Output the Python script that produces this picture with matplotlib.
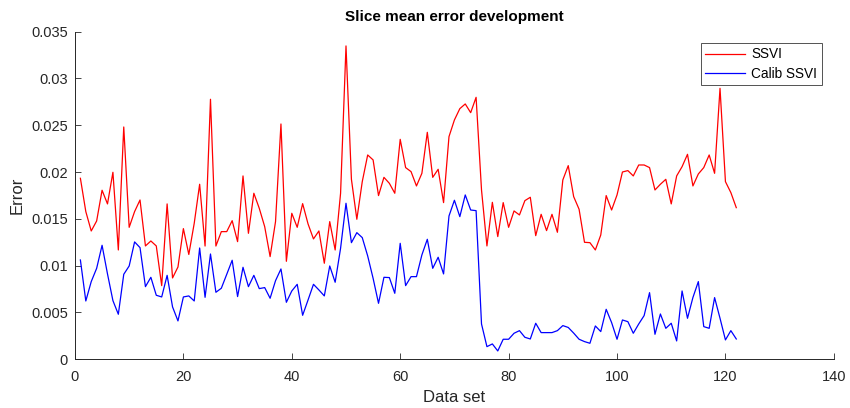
import matplotlib
matplotlib.use("Agg")
import matplotlib.pyplot as plt
import numpy as np

plt.rcParams['font.family'] = ['Liberation Sans', 'DejaVu Sans']

ssvi = [0.01934, 0.01578, 0.01371, 0.01478, 0.01806, 0.0166, 0.01998, 0.01168, 0.02482, 0.0141,
        0.01578, 0.01702, 0.01211, 0.01264, 0.01211, 0.00787, 0.0166, 0.00869, 0.00986, 0.01396,
        0.01120, 0.01453, 0.0187, 0.0121, 0.02778, 0.0121, 0.01364, 0.01364, 0.01481, 0.01257,
        0.01959, 0.01346, 0.01774, 0.01613, 0.01417, 0.01097, 0.01471, 0.02514, 0.01047, 0.0156,
        0.0141, 0.01663, 0.01446, 0.01286, 0.01371, 0.01026, 0.01471, 0.01168, 0.01774, 0.03348,
        0.01923, 0.01496, 0.01898, 0.02183, 0.0213, 0.01749, 0.01944, 0.0188, 0.01774, 0.0235,
        0.02048, 0.02005, 0.01852, 0.01987, 0.02425, 0.01944, 0.0203, 0.01674, 0.02379, 0.02557,
        0.02678, 0.02728, 0.02635, 0.02799, 0.01809, 0.01211, 0.01677, 0.01311, 0.01674, 0.0141,
        0.01585, 0.01542, 0.01695, 0.01731, 0.01321, 0.01549, 0.01375, 0.01549, 0.01357, 0.01916,
        0.02069, 0.01738, 0.01603, 0.0125, 0.01246, 0.01168, 0.01328, 0.01749, 0.01595, 0.01756,
        0.02001, 0.02016, 0.01959, 0.02076, 0.02076, 0.02048, 0.01809, 0.0187, 0.01923, 0.0166,
        0.01959, 0.02058, 0.0219, 0.01852, 0.0198, 0.02048, 0.02183, 0.01987, 0.02895, 0.01898,
        0.01781, 0.0162]

calib = [0.01061, 0.00623, 0.0083, 0.00972, 0.01218, 0.00912, 0.00627, 0.00481, 0.00908, 0.00997,
         0.01254, 0.01193, 0.00776, 0.00876, 0.00684, 0.00666, 0.00897, 0.00560, 0.0041, 0.00666,
         0.00677, 0.00623, 0.01189, 0.00662, 0.01125, 0.00716, 0.00759, 0.00908, 0.01058, 0.0067,
         0.00983, 0.00776, 0.00897, 0.00755, 0.00766, 0.00652, 0.0084, 0.00965, 0.00609, 0.0073,
         0.00801, 0.0047, 0.00634, 0.00801, 0.00741, 0.00677, 0.00997, 0.00823, 0.01186, 0.01667,
         0.01246, 0.01353, 0.013, 0.01104, 0.00865, 0.00598, 0.00876, 0.00873, 0.00705, 0.01239,
         0.00787, 0.00883, 0.00883, 0.01115, 0.01282, 0.00972, 0.0109, 0.00912, 0.01531, 0.01699,
         0.01524, 0.01756, 0.01595, 0.01588, 0.00377, 0.00135, 0.00164, 0.00089, 0.00214, 0.00214,
         0.00278, 0.00306, 0.00235, 0.00217, 0.00385, 0.00285, 0.00285, 0.00285, 0.00306, 0.0036,
         0.0034, 0.0028, 0.00214, 0.00189, 0.00171, 0.00356, 0.00296, 0.00534, 0.00392, 0.00214,
         0.0042, 0.00402, 0.00278, 0.00377, 0.00467, 0.00712, 0.00267, 0.00484, 0.00331, 0.00385,
         0.00196, 0.0073, 0.00438, 0.0066, 0.0083, 0.00349, 0.00331, 0.00659, 0.00438, 0.00207,
         0.00306, 0.00217]

data_set = np.arange(1, len(ssvi) + 1)

x_ticks = [0, 20, 40, 60, 80, 100, 120, 140]
y_ticks = [0, 0.005, 0.01, 0.015, 0.02, 0.025, 0.03, 0.035]
y_tick_labels = ['0', '0.005', '0.01', '0.015', '0.02', '0.025', '0.03', '0.035']

fig = plt.figure(figsize=(8.5, 4.08), dpi=100)
ax = fig.add_axes([0.0882, 0.1194, 0.8928, 0.8029])

ax.plot(data_set, ssvi, color='#ff0000', lw=0.9, label='SSVI')
ax.plot(data_set, calib, color='#0000ff', lw=0.9, label='Calib SSVI')

ax.set_xlim(0, 140)
ax.set_ylim(0, 0.035)
ax.set_xticks(x_ticks)
ax.set_yticks(y_ticks)
ax.set_yticklabels(y_tick_labels)
ax.tick_params(direction='in', length=4, width=0.6, colors='#262626', labelsize=10.5)
ax.tick_params(axis='x', pad=8)
ax.tick_params(axis='y', pad=5)
for s in ['top', 'right']:
    ax.spines[s].set_visible(False)
for s in ['left', 'bottom']:
    ax.spines[s].set_color('#262626')
    ax.spines[s].set_linewidth(0.7)

ax.set_xlabel('Data set', fontsize=12, color='#262626', labelpad=4)
ax.set_ylabel('Error', fontsize=12, color='#262626', labelpad=5)
ax.set_title('Slice mean error development', fontsize=11, fontweight='bold', pad=8)

leg = ax.legend(loc='upper right', bbox_to_anchor=(0.984, 0.9655), fontsize=9.8,
                frameon=True, fancybox=False, edgecolor='#262626', handlelength=2.9,
                borderpad=0.32, labelspacing=0.4, handletextpad=0.5, borderaxespad=0)
leg.get_frame().set_linewidth(0.7)

fig.savefig('out.png', dpi=100)
